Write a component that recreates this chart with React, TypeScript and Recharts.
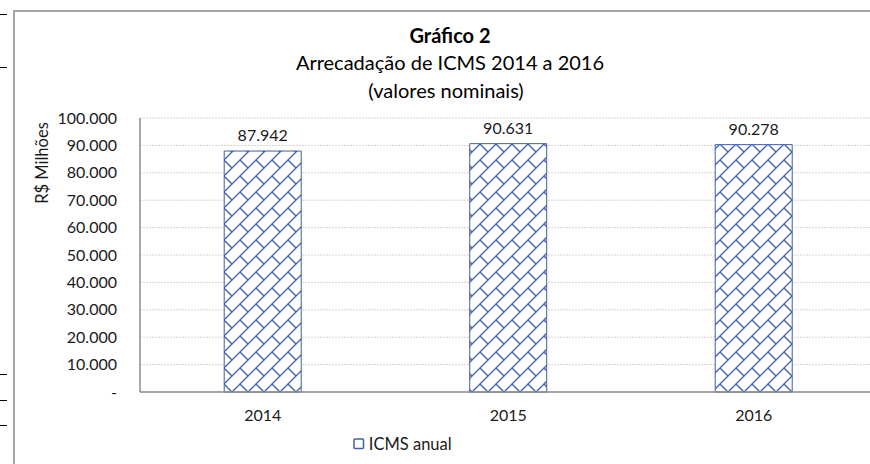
import React from 'react';
import { BarChart, Bar, XAxis, YAxis, CartesianGrid, LabelList, Legend } from 'recharts';

const categories = ['2014', '2015', '2016'];
const icmsValues = [87942, 90631, 90278];
const yTicks = [0, 10000, 20000, 30000, 40000, 50000, 60000, 70000, 80000, 90000, 100000];
const seriesName = 'ICMS anual';
const titleLines = ['Gráfico 2', 'Arrecadação de ICMS 2014 a 2016', '(valores nominais)'];
const yAxisTitle = 'R$ Milhões';

const data = categories.map((c, i) => ({ year: c, value: icmsValues[i] }));

const fmt = (v: number) => (v === 0 ? '-' : v.toLocaleString('de-DE'));

const FONT = 'Lato, "Noto Sans", sans-serif';
const BLUE = '#3f5fa8';

const LegendContent = () => (
  <div style={{ display: 'flex', justifyContent: 'center', alignItems: 'center', fontFamily: FONT, fontSize: 16.5, color: '#1a1a1a', marginLeft: -72 }}>
    <svg width={12} height={12} style={{ marginRight: 4 }}>
      <rect x={1} y={1} width={9.5} height={9.5} fill="#fff" stroke={BLUE} strokeWidth={1.5} rx={1} />
    </svg>
    <span>{seriesName}</span>
  </div>
);

export default function App() {
  const ticksMarks = [14, 67, 374, 400, 425];
  return (
    <div style={{ position: 'fixed', left: 0, top: 0, width: 870, height: 464, overflow: 'hidden', background: '#fff' }}>
      {ticksMarks.map((y) => (
        <div key={y} style={{ position: 'absolute', left: 0, top: y, width: 7, height: 1, background: '#000' }} />
      ))}
      <div style={{ position: 'absolute', left: 13, top: 10, width: 900, height: 500, borderLeft: '2px solid #a6a6a6', borderTop: '2px solid #a6a6a6' }} />
      <div style={{ position: 'absolute', left: 0, top: 0 }}>
        <BarChart
          width={880}
          height={464}
          data={data}
          margin={{ top: 118, right: 3.5, left: 0, bottom: 0 }}
          barCategoryGap="34.3%"
        >
          <defs>
            <pattern id="brick" width={16} height={16} patternUnits="userSpaceOnUse">
              <rect width={16} height={16} fill="#fff" />
              <path d="M0,16 L16,0 M-1,1 L1,-1 M15,17 L17,15" stroke={BLUE} strokeWidth={1.3} />
              <path d="M0,0 L8,8" stroke={BLUE} strokeWidth={1.3} />
            </pattern>
          </defs>
          <CartesianGrid vertical={false} stroke="#d4d4d4" strokeDasharray="2 1" />
          <XAxis
            dataKey="year"
            height={42}
            tickLine={false}
            axisLine={{ stroke: '#8c8c8c', strokeWidth: 1.5 }}
            tick={{ fontFamily: FONT, fontSize: 16, fill: '#1a1a1a' }}
            tickMargin={12}
          />
          <YAxis
            width={140}
            domain={[0, 100000]}
            ticks={yTicks}
            interval={0}
            tickFormatter={fmt}
            tickLine={false}
            tickSize={0}
            tickMargin={23}
            axisLine={{ stroke: '#8c8c8c', strokeWidth: 1.5 }}
            tick={{ fontFamily: FONT, fontSize: 16, fill: '#1a1a1a' }}
            label={{
              value: yAxisTitle,
              angle: -90,
              position: 'insideLeft',
              offset: 42,
              dy: -92,
              style: { fontFamily: FONT, fontSize: 16.5, fill: '#1a1a1a', textAnchor: 'middle' },
            }}
          />
          <Legend verticalAlign="bottom" height={30} content={<LegendContent />} />
          <Bar dataKey="value" name={seriesName} fill="url(#brick)" stroke={BLUE} strokeWidth={1} isAnimationActive={false}>
            <LabelList dataKey="value" position="top" offset={10} formatter={(v: any) => fmt(Number(v))} style={{ fontFamily: FONT, fontSize: 16, fill: '#1a1a1a' }} />
          </Bar>
        </BarChart>
      </div>
      <div style={{ position: 'absolute', left: 0, top: 22, width: 900, textAlign: 'center', fontFamily: FONT, color: '#000', fontSize: 20 }}>
        <div style={{ fontWeight: 'bold', lineHeight: '27px' }}>{titleLines[0]}</div>
        <div style={{ lineHeight: '27.5px' }}>{titleLines[1]}</div>
        <div style={{ lineHeight: '27.5px', marginLeft: -8 }}>{titleLines[2]}</div>
      </div>
    </div>
  );
}
